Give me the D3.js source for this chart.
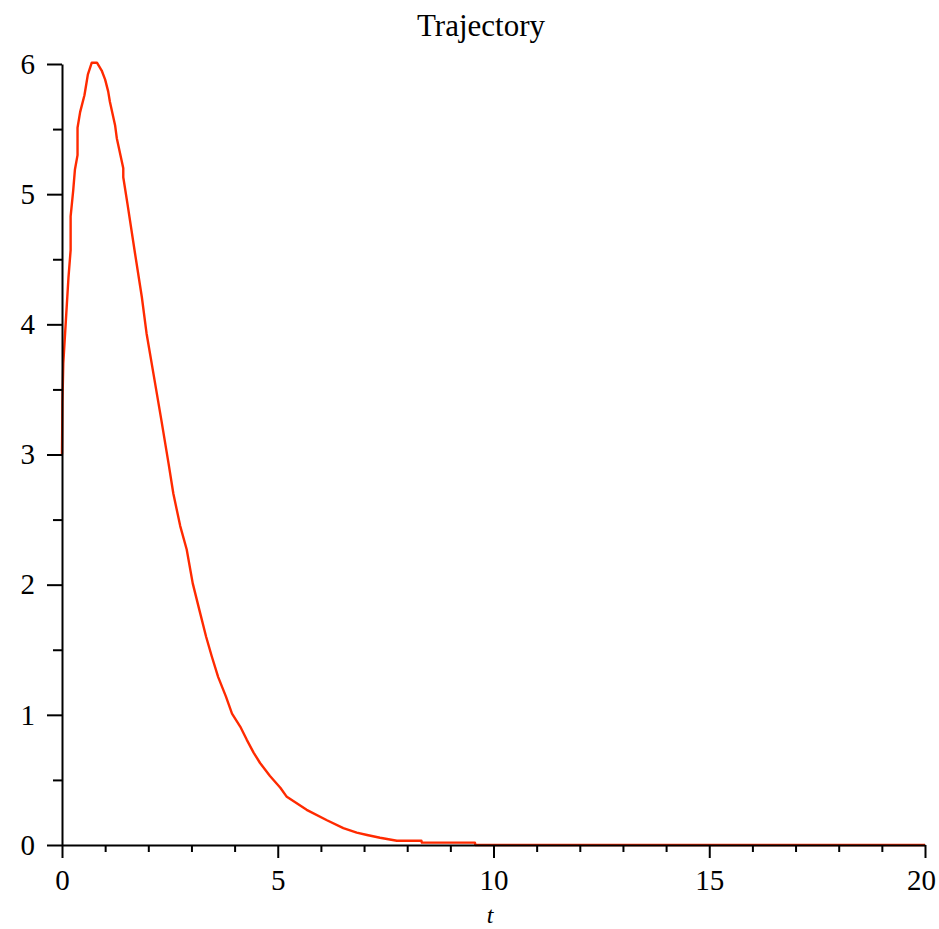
<!DOCTYPE html>
<html>
<head>
<meta charset="utf-8">
<script src="https://cdn.jsdelivr.net/npm/d3@7"></script>
<style>
  body { margin: 0; background: #fff; }
  text { font-family: "Liberation Serif", "Times New Roman", serif; fill: #000; }
</style>
</head>
<body>
<svg id="chart" width="939" height="929"></svg>
<script>
// trajectory
const trajT = [0, 0.01, 0.03, 0.09, 0.15, 0.20, 0.20, 0.26, 0.30, 0.36,
  0.36, 0.42, 0.52, 0.57, 0.60, 0.65, 0.69, 0.81, 0.92, 1.00,
  1.07, 1.11, 1.23, 1.27, 1.42, 1.42, 1.52, 1.69, 1.85, 1.96,
  2.13, 2.30, 2.47, 2.58, 2.74, 2.89, 3.03, 3.18, 3.34, 3.47,
  3.62, 3.80, 3.94, 4.13, 4.28, 4.44, 4.59, 4.82, 5.06, 5.21,
  5.67, 6.14, 6.52, 6.83, 7.07, 7.37, 7.76, 8.33, 8.34, 9.57,
  9.58, 20]
const trajX = [3.00, 3.40, 3.70, 4.03, 4.36, 4.57, 4.83, 5.03, 5.19, 5.30,
  5.51, 5.63, 5.76, 5.86, 5.92, 5.97, 6.01, 6.01, 5.95, 5.88,
  5.79, 5.71, 5.53, 5.43, 5.20, 5.13, 4.92, 4.55, 4.21, 3.93,
  3.60, 3.27, 2.93, 2.70, 2.45, 2.27, 2.01, 1.81, 1.60, 1.45,
  1.29, 1.14, 1.01, 0.91, 0.81, 0.71, 0.63, 0.53, 0.44, 0.37,
  0.27, 0.19, 0.13, 0.095, 0.077, 0.056, 0.033, 0.033, 0.018, 0.018,
  0, 0]

const xMajorTicks = [0, 5, 10, 15, 20]
const xMinorTicks = [1, 2, 3, 4, 6, 7, 8, 9, 11, 12, 13, 14, 16, 17, 18, 19]
const yMajorTicks = [0, 1, 2, 3, 4, 5, 6]
const yMinorTicks = [0.5, 1.5, 2.5, 3.5, 4.5, 5.5]

const titleText = "Trajectory"
const xLabel = "t"

function make_scales() {
  return {
    x: d3.scaleLinear().domain([0, 20]).range([62, 925]),
    y: d3.scaleLinear().domain([0, 6]).range([845, 64])
  }
}

function draw_line(svg, data, scales) {
  let path_generator = d3.line()
    .x(d => scales.x(d.t))
    .y(d => scales.y(d.v))

  svg.append("path")
    .datum(data)
    .attr("d", path_generator)
    .attr("fill", "none")
    .attr("stroke", "#ff2a00")
    .attr("stroke-width", 2.4)
    .attr("stroke-linejoin", "round")
}

function style_axis(g) {
  g.selectAll("path, line").attr("stroke", "#000").attr("stroke-width", 2)
  g.selectAll("text").style("font-size", "29px").attr("fill", "#000")
}

function draw_axes(svg, scales) {
  // minor ticks first, no labels
  svg.append("g")
    .attr("transform", "translate(0,845)")
    .call(d3.axisBottom(scales.x).tickValues(xMinorTicks).tickSize(7).tickSizeOuter(0).tickFormat(""))
    .call(style_axis)
    .select(".domain").remove()

  svg.append("g")
    .attr("transform", "translate(62,0)")
    .call(d3.axisLeft(scales.y).tickValues(yMinorTicks).tickSize(9).tickSizeOuter(0).tickFormat(""))
    .call(style_axis)
    .select(".domain").remove()

  let xg = svg.append("g")
    .attr("transform", "translate(0,845)")
    .call(d3.axisBottom(scales.x).tickValues(xMajorTicks).tickSize(13).tickSizeOuter(0)
      .tickPadding(11).tickFormat(d3.format("d")))
    .call(style_axis)
  // last label sits a little inside the right edge
  xg.selectAll(".tick text").filter(d => d == 20).attr("dx", -4)

  svg.append("g")
    .attr("transform", "translate(62,0)")
    .call(d3.axisLeft(scales.y).tickValues(yMajorTicks).tickSize(15).tickSizeOuter(0)
      .tickPadding(12).tickFormat(d3.format("d")))
    .call(style_axis)
}

function draw_labels(svg) {
  svg.append("text")
    .attr("x", 481)
    .attr("y", 36)
    .attr("text-anchor", "middle")
    .style("font-size", "31px")
    .text(titleText)

  svg.append("text")
    .attr("x", 490)
    .attr("y", 923)
    .attr("text-anchor", "middle")
    .style("font-size", "24px")
    .style("font-style", "italic")
    .text(xLabel)
}

let svg = d3.select("#chart")
let scales = make_scales()
let data = trajT.map((t, i) => ({t: t, v: trajX[i]}))
draw_line(svg, data, scales)
draw_axes(svg, scales)
draw_labels(svg)
</script>
</body>
</html>
